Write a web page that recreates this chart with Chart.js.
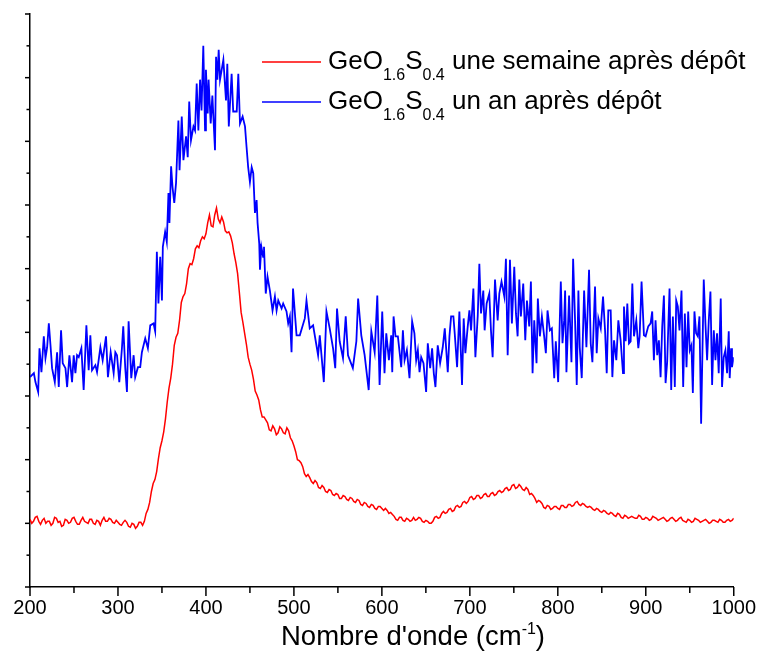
<!DOCTYPE html>
<html>
<head>
<meta charset="utf-8">
<script src="https://cdn.jsdelivr.net/npm/chart.js@4.4.1/dist/chart.umd.min.js"></script>
<style>
  html, body { margin: 0; padding: 0; background: #fff; }
  #wrap { width: 765px; height: 659px; position: relative; }
</style>
</head>
<body>
<div id="wrap"><canvas id="spectre"></canvas></div>
<script>
//------------------------------ DATA ----------------------------------
// Axe des x (nombre d'onde, cm-1)
const xMin = 200, xMax = 1000;
const xTickLabels = [200, 300, 400, 500, 600, 700, 800, 900, 1000];
// Axe des y : intensité en unités arbitraires, pas de libellés
const yMin = 0, yMax = 576, yMinorStep = 32;

// Spectre rouge : une semaine après dépôt
// points pairs : 200, 204, 208 ... 1000
const redStart = 200, redStep = 4;
const redIntensity = [
  68, 66, 71, 63, 69, 66, 62, 70, 65, 61,
  68, 64, 69, 66, 63, 70, 65, 68, 64, 67,
  62, 70, 66, 68, 64, 65, 62, 67, 61, 64,
  59, 65, 62,
  74, 85, 104, 116, 140, 156, 186, 210, 243, 255,
  286, 295, 320, 324, 340, 341, 352, 355, 374, 362,
  381, 366, 367, 356, 353, 335, 315, 276, 255, 231,
  218, 197, 188, 171, 168, 158, 162, 153, 161, 155,
  160, 150, 142, 128, 125, 114, 113, 106, 107, 100,
  102, 96, 98, 93, 94, 89, 92, 88, 90, 86,
  88, 83, 85, 81, 83, 79, 81, 79, 79, 74,
  73, 68, 70, 67, 69, 66, 70, 68, 69, 65,
  66, 64, 70, 69, 74, 74, 78, 76, 81, 80,
  85, 84, 90, 88, 92, 89, 93, 91, 94, 92,
  96, 95, 99, 97, 102, 99, 103, 98, 100, 93,
  92, 85, 86, 80, 82, 78, 81, 79, 82, 80,
  83, 81, 85, 83, 84, 81, 81, 78, 79, 76,
  77, 74, 75, 72, 74, 70, 72, 69,
  71, 69, 72, 68, 70, 67, 71, 69, 68, 70,
  66, 69, 68, 67, 70, 66, 68, 65, 69, 67,
  66, 68, 64, 67, 66, 68, 65, 67, 66, 69
];
// points intermédiaires : 202, 206, 210 ... 998
const redMidIntensity = [
  64, 70, 66, 67, 64, 66, 64, 69, 66, 62,
  67, 65, 70, 63, 67, 66, 64, 68, 63, 66,
  67, 66, 69, 65, 67, 63, 65, 65, 60, 63,
  61, 65, 66,
  78, 96, 108, 129, 147, 169, 200, 224, 251, 268,
  292, 305, 325, 330, 343, 348, 350, 366, 363, 374,
  370, 372, 358, 357, 346, 326, 296, 266, 244, 224,
  209, 193, 178, 171, 165, 157, 159, 155, 159, 154,
  157, 147, 136, 127, 121, 111, 110, 104, 105, 99,
  100, 95, 97, 92, 93, 89, 91, 87, 89, 85,
  87, 82, 84, 80, 82, 78, 81, 77, 77, 75,
  71, 67, 70, 66, 68, 67, 67, 70, 66, 67,
  64, 66, 71, 70, 76, 75, 79, 77, 82, 81,
  86, 86, 91, 89, 92, 90, 94, 91, 95, 93,
  97, 96, 100, 98, 103, 100, 101, 97, 98, 94,
  89, 87, 84, 79, 81, 79, 81, 78, 82, 80,
  83, 82, 86, 82, 83, 80, 80, 77, 78, 75,
  76, 73, 74, 71, 73, 69, 71, 70,
  70, 69, 71, 68, 69, 68, 70, 67, 69, 68,
  67, 70, 66, 69, 67, 65, 67, 66, 68, 65,
  67, 66, 65, 67, 65, 67, 65, 68, 67
];

// Spectre bleu : un an après dépôt
const blueWave = [
  200, 204.4, 206.2, 209.3, 210.8, 213, 215.7, 217.6, 219.5, 221.4,
  223.3, 225.1, 228.2, 230.8, 232.7, 235.3, 237.2, 240.3, 242.2, 244.8,
  247.8, 249.7, 251.6, 253.5, 255.4, 258.4, 261, 264.1, 266.7, 268.6,
  270.5, 274.3, 276.2, 280, 282.6, 286.4, 288.6, 291.7, 295.1, 297,
  298.9, 301.5, 304.5, 306, 308.3, 310.2, 312.1, 315.1, 317.8, 319.6,
  322.7, 325.3, 327.2, 331, 334, 336.7, 340.4, 342.3, 344.2, 346,
  348, 350, 351, 353.6, 355.5, 357.4, 358.5, 360.4, 362, 364,
  366, 368.7, 370, 372.5, 374.4, 377.4, 379.3, 381, 383, 385.8,
  387.6, 389.5, 391.4, 393.3, 395, 397, 399, 400, 402, 403,
  405.4, 407.3, 410.3, 411.5, 413, 414.5, 416, 419.8, 422.8, 424.3,
  426, 429.2, 431, 435, 436.8, 438.7, 441.7, 444.4, 446.2, 448,
  450, 452, 453.8, 455.7, 457.6, 458.7, 460.6, 461.4, 463, 465,
  466, 468, 470, 472.7, 475.7, 478.4, 480.3, 482.2, 486, 487.8,
  491.6, 493.5, 495.4, 497.3, 499, 503, 506.7, 512.4, 514.3, 518,
  521.8, 525.6, 527.5, 529.4, 534, 537, 540.7, 544.5, 547, 549,
  552, 555.8, 558.9, 561.5, 567, 571, 573, 576.6, 580.4, 585,
  588, 591.8, 594.8, 597.4, 600.4, 602, 603, 605, 608, 610.6,
  611.8, 613.3, 615.5, 618.2, 622, 623.9, 625.8, 628.4, 631.4, 634.4,
  637, 639, 640.9, 642.8, 644.7, 647.3, 650.3, 652.2, 654.9, 657.1,
  659, 660.9, 663.5, 666.2, 669.2, 671.5, 674.9, 676.8, 678.7, 681.3,
  682.8, 685.5, 688.1, 691.1, 693, 694.9, 697.6, 699.5, 701.4, 704,
  706.3, 709, 710.8, 712.7, 715.3, 716.8, 719.1, 722.1, 724, 725.9,
  728.6, 731.6, 733.5, 736, 739.2, 741, 743, 745.6, 747.8, 750.5,
  752.4, 754.3, 756.2, 758, 760.7, 763, 764.9, 767.5, 769.4, 771.3,
  773.2, 775.8, 777.3, 779.6, 781.9, 784.5, 786.4, 788.3, 791, 793.2,
  795.9, 797.7, 800.4, 803.4, 805.3, 807.2, 808.3, 809.8, 812.8, 815.5,
  817.4, 819.6, 821.5, 823.4, 824.9, 827.2, 829.9, 832.5, 835.5, 837.4,
  839.3, 842.3, 844.2, 846.1, 848.8, 851.4, 853.7, 855.6, 857.4, 860.1,
  862, 863.9, 866.5, 868.8, 871.4, 874.1, 875.2, 877.1, 879, 880.9,
  882.8, 884.7, 886.6, 889.2, 891.5, 893, 895.2, 897.9, 899.8, 902.8,
  905.5, 907.3, 909.2, 911.1, 913, 914.9, 916.8, 918.7, 920.6, 922.5,
  924.3, 927, 928.9, 930.8, 933, 934.6, 936.4, 938.3, 940.6, 942.5,
  944.4, 946.3, 948.2, 950, 951.9, 953.5, 955.3, 957.2, 959.1, 961,
  962.9, 965.9, 967.8, 969.7, 971.6, 973.5, 975.4, 977.3, 979.2, 981,
  982.9, 985.2, 986.7, 988.6, 990.5, 992.4, 994.3, 995.4, 997, 998,
  1000
];
const blueIntensity = [
  211, 215, 206, 196, 240, 216, 252, 230, 241, 265,
  243, 220, 206, 236, 201, 258, 225, 220, 201, 233,
  206, 233, 215, 233, 231, 240, 198, 263, 218, 253,
  218, 223, 216, 241, 228, 252, 211, 236, 215, 236,
  233, 206, 240, 262, 220, 196, 267, 210, 233, 211,
  221, 221, 236, 250, 240, 263, 265, 257, 337, 285,
  332, 288, 342, 357, 347, 396, 366, 423, 402, 386,
  406, 469, 419, 473, 429, 453, 432, 488, 449, 463,
  459, 506, 459, 510, 479, 544, 459, 520, 476, 510,
  466, 494, 439, 533, 510, 540, 510, 530, 489, 526,
  463, 516, 478, 478, 516, 466, 473, 463, 442, 422,
  407, 422, 416, 376, 389, 366, 345, 319, 342, 332,
  342, 295, 312, 298, 278, 292, 278, 288, 280, 285,
  277, 265, 272, 236, 300, 253, 253, 270, 288, 260,
  263, 243, 233, 253, 206, 277, 260, 240, 220, 280,
  247, 230, 272, 233, 220, 247, 290, 253, 233, 198,
  257, 236, 293, 203, 277, 238, 215, 255, 228, 253,
  216, 272, 252, 252, 221, 258, 228, 238, 210, 267,
  255, 228, 238, 216, 231, 225, 196, 245, 220, 240,
  215, 201, 243, 225, 241, 260, 216, 252, 272, 272,
  255, 221, 277, 203, 270, 235, 262, 278, 258, 300,
  231, 273, 325, 275, 298, 258, 285, 295, 258, 231,
  309, 268, 295, 307, 292, 330, 233, 329, 265, 322,
  275, 252, 309, 272, 305, 248, 288, 262, 307, 215,
  268, 225, 290, 252, 272, 252, 235, 278, 258, 260,
  210, 247, 206, 307, 245, 268, 298, 216, 293, 226,
  330, 268, 203, 298, 241, 210, 298, 241, 319, 245,
  226, 302, 235, 270, 260, 292, 258, 215, 278, 278,
  211, 248, 228, 268, 248, 215, 282, 247, 285, 245,
  247, 305, 252, 268, 240, 252, 307, 253, 252, 262,
  265, 277, 228, 268, 233, 248, 211, 262, 293, 205,
  226, 300, 198, 272, 201, 288, 282, 258, 298, 201,
  275, 221, 277, 238, 243, 195, 277, 255, 252, 272,
  164, 309, 265, 228, 268, 297, 203, 258, 228, 255,
  215, 290, 201, 231, 238, 215, 257, 210, 240, 221,
  231
];

const legendLabels = [
  { main: 'GeO', sub1: '1.6', mid: 'S', sub2: '0.4', rest: ' une semaine après dépôt', color: '#ff0000' },
  { main: 'GeO', sub1: '1.6', mid: 'S', sub2: '0.4', rest: ' un an après dépôt', color: '#0000ff' }
];

//------------------------------ BUILD POINTS ----------------------------------
// on entrelace les points pairs et intermédiaires du spectre rouge
const redPoints = [];
redIntensity.forEach((v, i) => {
  redPoints.push({ x: redStart + i * redStep, y: v });
  if (i < redMidIntensity.length) {
    redPoints.push({ x: redStart + i * redStep + redStep / 2, y: redMidIntensity[i] });
  }
});
const bluePoints = blueWave.map((w, i) => ({ x: w, y: blueIntensity[i] }));

const FONT = '"Liberation Sans", Arial, Helvetica, sans-serif';
Chart.defaults.font.family = FONT;
Chart.defaults.color = '#000';

//------------------------------ PLUGIN : ticks, titre, légende ----------------------------------
function drawLine(ctx, x1, y1, x2, y2) {
  ctx.beginPath();
  ctx.moveTo(x1, y1);
  ctx.lineTo(x2, y2);
  ctx.stroke();
}

// texte avec indices (GeO1.6S0.4 ...)
function drawRichLabel(ctx, item, x, y, mainSize, subSize, subDrop) {
  const big = mainSize + 'px ' + FONT;
  const small = subSize + 'px ' + FONT;
  const parts = [
    [item.main, big, 0], [item.sub1, small, subDrop],
    [item.mid, big, 0], [item.sub2, small, subDrop], [item.rest, big, 0]
  ];
  let cx = x;
  parts.forEach(p => {
    ctx.font = p[1];
    ctx.fillText(p[0], cx, y + p[2]);
    cx += ctx.measureText(p[0]).width;
  });
}

const decorPlugin = {
  id: 'decor',
  afterDraw(chart) {
    const ctx = chart.ctx;
    const xs = chart.scales.x, ys = chart.scales.y;
    const area = chart.chartArea;
    ctx.save();
    ctx.strokeStyle = '#000';
    ctx.lineWidth = 1.5;

    // graduations x (majeures tous les 100, mineures tous les 50)
    for (let v = xMin; v <= xMax; v += 50) {
      const px = xs.getPixelForValue(v);
      const len = (v % 100 === 0) ? 9 : 6;
      drawLine(ctx, px, area.bottom, px, area.bottom + len);
    }
    // graduations y
    for (let v = yMin; v <= yMax; v += yMinorStep) {
      const py = ys.getPixelForValue(v);
      const len = (v % (2 * yMinorStep) === 0) ? 5 : 3.5;
      drawLine(ctx, area.left - len, py, area.left, py);
    }

    // titre de l'axe x avec exposant
    ctx.fillStyle = '#000';
    ctx.textBaseline = 'alphabetic';
    let tx = 281, ty = 645;
    ctx.font = '27.5px ' + FONT;
    ctx.fillText("Nombre d'onde (cm", tx, ty);
    tx += ctx.measureText("Nombre d'onde (cm").width;
    ctx.font = '16px ' + FONT;
    ctx.fillText('-1', tx, ty - 11);
    tx += ctx.measureText('-1').width;
    ctx.font = '27.5px ' + FONT;
    ctx.fillText(')', tx, ty);

    // légende
    legendLabels.forEach((item, i) => {
      const ly = 62 + i * 40;
      ctx.strokeStyle = item.color;
      ctx.lineWidth = 1.5;
      drawLine(ctx, 262, ly, 321, ly);
      ctx.fillStyle = '#000';
      drawRichLabel(ctx, item, 328, ly + 7, 26, 16, 11);
    });
    ctx.restore();
  }
};

//------------------------------ CHART ----------------------------------
new Chart(document.getElementById('spectre'), {
  type: 'line',
  data: {
    datasets: [
      {
        label: 'GeO1.6S0.4 une semaine après dépôt',
        data: redPoints,
        borderColor: '#ff0000',
        borderWidth: 1.5,
        pointRadius: 0,
        tension: 0,
        fill: false
      },
      {
        label: 'GeO1.6S0.4 un an après dépôt',
        data: bluePoints,
        borderColor: '#0000ff',
        borderWidth: 1.8,
        pointRadius: 0,
        tension: 0,
        fill: false
      }
    ]
  },
  options: {
    responsive: true,
    maintainAspectRatio: false,
    animation: false,
    devicePixelRatio: 1,
    layout: { padding: { top: 14, right: 30, left: 0, bottom: 0 } },
    plugins: {
      legend: { display: false },
      tooltip: { enabled: false }
    },
    scales: {
      x: {
        type: 'linear',
        min: xMin,
        max: xMax,
        afterFit(scale) { scale.height = 72; },
        afterBuildTicks(scale) { scale.ticks = xTickLabels.map(v => ({ value: v })); },
        ticks: {
          font: { size: 20 },
          color: '#000',
          padding: 9,
          maxRotation: 0,
          callback: value => String(value)
        },
        grid: { display: true, drawOnChartArea: false, drawTicks: false },
        border: { display: true, color: '#000', width: 1.5 }
      },
      y: {
        type: 'linear',
        min: yMin,
        max: yMax,
        afterFit(scale) { scale.width = 30; },
        ticks: { display: false, stepSize: yMinorStep },
        grid: { display: true, drawOnChartArea: false, drawTicks: false },
        border: { display: true, color: '#000', width: 1.5 }
      }
    }
  },
  plugins: [decorPlugin]
});
</script>
</body>
</html>
